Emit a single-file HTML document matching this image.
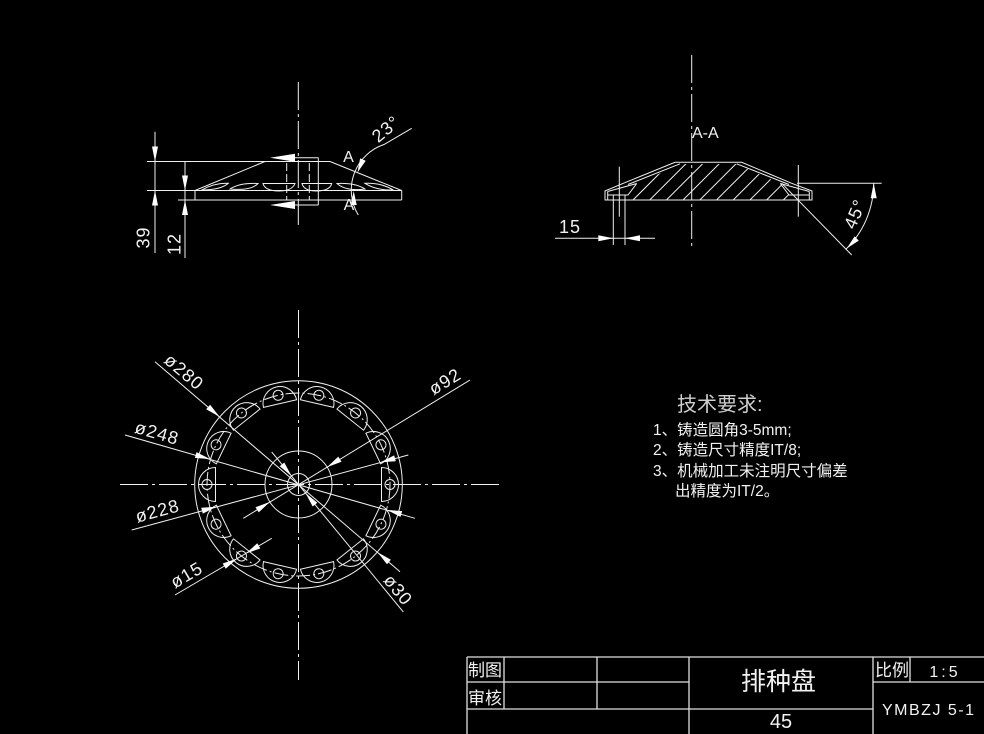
<!DOCTYPE html>
<html><head><meta charset="utf-8"><style>
html,body{margin:0;padding:0;background:#000;}
svg{display:block;}
text{font-family:"Liberation Sans","Noto Sans CJK SC",sans-serif;fill:#f2f2f2;}
</style></head><body>
<svg width="984" height="734" viewBox="0 0 984 734" xmlns="http://www.w3.org/2000/svg">
<rect width="984" height="734" fill="#000"/>
<defs>
<g id="pk" fill="none" stroke="#eee" stroke-width="1">
<path d="M281.5,401.5 A17,17 0 0 1 315.5,401.5 Z"/>
<circle cx="298.5" cy="393" r="5"/>
</g>
<clipPath id="hc"><polygon points="629,200 637,184 680,164 737,164 781,184 792,200"/></clipPath>
</defs>

<g stroke="#f0f0f0" stroke-width="1" fill="none">
<!-- ============ FRONT VIEW ============ -->
<line x1="298.3" y1="82" x2="298.3" y2="225" stroke-dasharray="28 4 3 4"/>
<line x1="147" y1="161.5" x2="330" y2="161.5"/>
<line x1="265" y1="161.5" x2="195" y2="190.5"/>
<line x1="330" y1="161.5" x2="401.7" y2="190.5"/>
<line x1="147" y1="190.5" x2="401.7" y2="190.5"/>
<line x1="178" y1="200" x2="401.7" y2="200"/>
<line x1="195" y1="190.5" x2="195" y2="200"/>
<line x1="401.7" y1="190.5" x2="401.7" y2="200"/>
<!-- hub -->
<line x1="318.3" y1="157.7" x2="318.3" y2="205"/>
<line x1="295" y1="157.7" x2="318.3" y2="157.7"/>
<line x1="295" y1="205" x2="318.3" y2="205"/>
<line x1="286.7" y1="163" x2="286.7" y2="200" stroke-dasharray="8 3"/>
<line x1="309.3" y1="163" x2="309.3" y2="200" stroke-dasharray="8 3"/>
<!-- pockets front -->
<path d="M201.7,190 Q214,183 228.3,183.3 Q221,190 201.7,190 Z"/>
<path d="M230,189 Q240,182.5 258,183.5 Q251,191 230,189 Z"/>
<path d="M263,183.5 L295,183.5 Q292,191 279,191 Q265,191 263,183.5 Z"/>
<path d="M302,183.5 L331.7,183.5 Q330,191 316,191 Q304,191 302,183.5 Z"/>
<path d="M337,183.5 Q355,182.5 365,189 Q346,191.5 337,183.5 Z"/>
<path d="M365,183.3 Q381,182.5 393.3,190 Q376,190.5 365,183.3 Z"/>
<!-- dims 39 / 12 -->
<line x1="155" y1="131.7" x2="155" y2="253"/>
<line x1="185" y1="161.5" x2="185" y2="258"/>
<!-- 23 deg arc -->
<path d="M358.3,215 A48,48 0 0 1 384,144.5 L411.7,128.3"/>

<!-- ============ SECTION VIEW ============ -->
<line x1="691.7" y1="55" x2="691.7" y2="248" stroke-dasharray="28 4 3 4"/>
<path d="M605,200 L605,191 L623.3,183.3 L675,162.3 L741.7,162.3 L791.7,183.3 L812,191 L812,200 Z"/>
<line x1="680" y1="163.8" x2="628" y2="184.5"/>
<line x1="736.7" y1="163.8" x2="789" y2="184.5"/>
<path d="M607.7,191.5 L636.7,183.5 M607.7,191.5 L607.7,200 M608,195 L628,195 L636.7,183.5"/>
<path d="M809.3,191.5 L780.3,183.5 M809.3,191.5 L809.3,200 M809,195 L789,195 L780.3,183.5"/>
<g clip-path="url(#hc)">
<path d="M583,200 l45,-45 M599.7,200 l45,-45 M616.4,200 l45,-45 M633,200 l45,-45 M649.7,200 l45,-45 M666.4,200 l45,-45 M683,200 l45,-45 M699.8,200 l45,-45 M716.5,200 l45,-45 M733.2,200 l45,-45 M749.9,200 l45,-45 M766.6,200 l45,-45 M783.3,200 l45,-45"/>
</g>
<line x1="619.3" y1="166.7" x2="619.3" y2="216.7"/>
<line x1="613.3" y1="195" x2="613.3" y2="245"/>
<line x1="625" y1="195" x2="625" y2="245"/>
<line x1="555" y1="238.3" x2="655" y2="238.3"/>
<line x1="798.3" y1="165" x2="798.3" y2="216.7"/>
<line x1="797" y1="183.3" x2="881.7" y2="183.3"/>
<line x1="781.7" y1="183.3" x2="851.7" y2="255"/>
<path d="M873.7,183.3 A92,92 0 0 1 845.6,249.5"/>

<!-- ============ PLAN VIEW ============ -->
<line x1="298.5" y1="310" x2="298.5" y2="680" stroke-dasharray="28 4 3 4"/>
<line x1="120" y1="484.5" x2="500" y2="484.5" stroke-dasharray="28 4 3 4"/>
<circle cx="298.5" cy="484.5" r="103.8"/>
<circle cx="298.5" cy="484.5" r="33.5"/>
<circle cx="298.5" cy="484.5" r="11"/>
<circle cx="298.5" cy="484.5" r="91.5" stroke-dasharray="14 3 2 3"/>
<!-- dimension leader lines -->
<line x1="155" y1="361.7" x2="400" y2="571.7"/>
<line x1="271.7" y1="451.9" x2="403.3" y2="611.9"/>
<line x1="243.3" y1="518.3" x2="470" y2="380"/>
<line x1="125" y1="435" x2="415" y2="518.3"/>
<line x1="131.7" y1="530" x2="408.3" y2="455"/>
<line x1="175" y1="595" x2="271.7" y2="538.3"/>
</g>

<!-- pockets -->
<use href="#pk" transform="rotate(12.857 298.5 484.5)"/>
<use href="#pk" transform="rotate(38.571 298.5 484.5)"/>
<use href="#pk" transform="rotate(64.286 298.5 484.5)"/>
<use href="#pk" transform="rotate(90 298.5 484.5)"/>
<use href="#pk" transform="rotate(115.714 298.5 484.5)"/>
<use href="#pk" transform="rotate(141.429 298.5 484.5)"/>
<use href="#pk" transform="rotate(167.143 298.5 484.5)"/>
<use href="#pk" transform="rotate(192.857 298.5 484.5)"/>
<use href="#pk" transform="rotate(218.571 298.5 484.5)"/>
<use href="#pk" transform="rotate(244.286 298.5 484.5)"/>
<use href="#pk" transform="rotate(270 298.5 484.5)"/>
<use href="#pk" transform="rotate(295.714 298.5 484.5)"/>
<use href="#pk" transform="rotate(321.429 298.5 484.5)"/>
<use href="#pk" transform="rotate(347.143 298.5 484.5)"/>

<!-- arrowheads -->
<g fill="#fff" stroke="none">
<polygon points="270,157.7 295,153.7 295,161.7"/>
<polygon points="270,205 295,201 295,209"/>
<polygon points="155,161.5 152,146.5 158,146.5"/>
<polygon points="155,190.5 152,205.5 158,205.5"/>
<polygon points="185,190.5 182,175.5 188,175.5"/>
<polygon points="185,200 182,215 188,215"/>
<polygon points="357.5,172.5 360.1,158.4 365.7,160.8"/>
<polygon points="353.7,191 350.7,205 356.7,205"/>
<polygon points="613.3,238.3 598.3,235.3 598.3,241.3"/>
<polygon points="625,238.3 640,235.3 640,241.3"/>
<polygon points="873.7,183.3 870.7,198.3 876.7,198.3"/>
<polygon points="846.8,248.4 854.6,236.4 858.8,240.6"/>
<polygon points="219.5,416.8 206.2,409.3 210.1,404.7"/>
<polygon points="377.5,552.2 387,564.3 390.9,559.7"/>
<polygon points="291.5,476 279.7,466.3 284.3,462.5"/>
<polygon points="305.5,493 312.7,506.5 317.3,502.7"/>
<polygon points="269.9,501.9 258.7,512.4 255.5,507.2"/>
<polygon points="327.1,467.1 341.5,461.8 338.3,456.6"/>
<polygon points="210.1,459.1 194.9,457.9 196.5,452.1"/>
<polygon points="386.9,509.9 400.5,516.9 402.1,511.1"/>
<polygon points="216.5,506.7 202.8,513.6 201.2,507.8"/>
<polygon points="380.5,462.3 395.8,461.2 394.2,455.4"/>
<polygon points="237.2,558.5 225.7,568.7 222.7,563.5"/>
<polygon points="245.8,553.5 260.3,548.5 257.3,543.3"/>
</g>

<!-- dimension texts -->
<g font-size="18" letter-spacing="1" text-anchor="middle" dominant-baseline="central">
<text x="143.5" y="237.5" transform="rotate(-90 143.5 237.5)">39</text>
<text x="174.5" y="244" transform="rotate(-90 174.5 244)">12</text>
<text x="386" y="129" transform="rotate(-40 386 129)">23°</text>
<text x="855" y="214" transform="rotate(-67.5 855 214)">45°</text>
<text x="570" y="227">15</text>
<text x="184" y="372" transform="rotate(40.6 184 372)">ø280</text>
<text x="157" y="433" transform="rotate(16 157 433)">ø248</text>
<text x="157.5" y="511" transform="rotate(-15.2 157.5 511)">ø228</text>
<text x="186.7" y="575" transform="rotate(-30.3 186.7 575)">ø15</text>
<text x="445" y="381.5" transform="rotate(-31.4 445 381.5)">ø92</text>
<text x="398" y="590" transform="rotate(50.6 398 590)">ø30</text>
</g>
<text x="348.5" y="162" font-size="16" text-anchor="middle">A</text>
<text x="349" y="210" font-size="16" text-anchor="middle">A</text>
<text x="692" y="138" font-size="16">A-A</text>

<!-- technical requirements -->
<text x="677" y="411" font-size="20" style="fill:#cfcfcf">技术要求:</text>
<g font-size="15.5">
<text x="653" y="435">1、铸造圆角3-5mm;</text>
<text x="653" y="455">2、铸造尺寸精度IT/8;</text>
<text x="653" y="476">3、机械加工未注明尺寸偏差</text>
<text x="675" y="496">出精度为IT/2。</text>
</g>

<!-- title block -->
<g stroke="#e0e0e0" stroke-width="1.3" fill="none">
<line x1="467" y1="657" x2="984" y2="657"/>
<line x1="467" y1="657" x2="467" y2="734"/>
<line x1="467" y1="682" x2="689" y2="682"/>
<line x1="873" y1="682" x2="984" y2="682"/>
<line x1="467" y1="709" x2="873" y2="709"/>
<line x1="504" y1="657" x2="504" y2="709"/>
<line x1="597" y1="657" x2="597" y2="709"/>
<line x1="689" y1="657" x2="689" y2="734"/>
<line x1="873" y1="657" x2="873" y2="734"/>
<line x1="910" y1="657" x2="910" y2="682"/>
</g>
<text x="468" y="676" font-size="17">制图</text>
<text x="468" y="704" font-size="17">审核</text>
<text x="875" y="676" font-size="17">比例</text>
<text x="778.5" y="690" font-size="25" text-anchor="middle">排种盘</text>
<text x="781" y="728" font-size="20" text-anchor="middle">45</text>
<text x="945" y="677" font-size="16" text-anchor="middle" letter-spacing="3">1:5</text>
<text x="882" y="715" font-size="16" letter-spacing="1.5">YMBZJ 5-1</text>
</svg>
</body></html>
